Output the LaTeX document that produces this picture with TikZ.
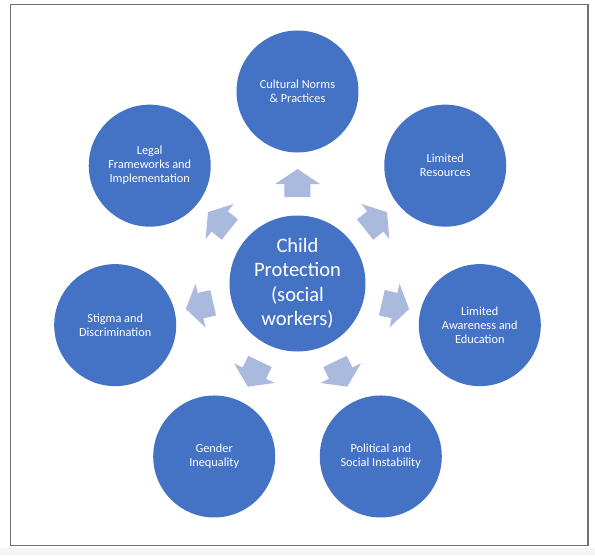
\documentclass[tikz,border=0pt]{standalone}
\usepackage{fontspec}
\setmainfont{Carlito}
\definecolor{cblue}{RGB}{68,114,196}
\definecolor{alight}{RGB}{170,185,222}
\definecolor{framegray}{RGB}{112,112,112}
\tikzset{
  outerc/.style={circle, fill=cblue, minimum size=122pt, inner sep=0pt, text=white,
    align=center, font=\fontsize{12.3}{14}\selectfont},
  hubc/.style={circle, fill=cblue, minimum size=136pt, inner sep=0pt, text=white,
    align=center, font=\fontsize{20.5}{24.5}\selectfont},
  pics/radarrow/.style={code={
    \fill[alight] (-13,0) -- (13,0) -- (13,13) -- (22.5,13) -- (0,28) -- (-22.5,13) -- (-13,13) -- cycle;}}
}
\begin{document}
\begin{tikzpicture}[x=1pt,y=1pt]
  \useasboundingbox (-297.5,-271.5) rectangle (297.5,283.5);
  \fill[gray!8] (-297.5,-271.5) rectangle (297.5,-264.5);
  \draw[framegray, line width=1.1pt] (-287,-262) rectangle (290.5,279);
  \node[hubc] (c) at (0,0) {Child\\Protection\\(social\\workers)};
  \node[outerc] (n1) at (90:192) {Cultural Norms\\\& Practices};
  \node[outerc] (n2) at (38.57:189) {Limited\\Resources};
  \node[outerc] (n3) at (-12.86:187) {Limited\\Awareness and\\Education};
  \node[outerc] (n4) at (-64.29:192) {Political and\\Social Instability};
  \node[outerc] (n5) at (-115.71:192) {Gender\\Inequality};
  \node[outerc] (n6) at (-167.14:187) {Stigma and\\Discrimination};
  \node[outerc] (n7) at (141.43:189) {Legal\\Frameworks and\\Implementation};
  \foreach \a in {90,38.57,-12.86,-64.29,-115.71,-167.14,141.43}
    \pic[rotate=\a-90] at (\a:86.5) {radarrow};
\end{tikzpicture}
\end{document}
